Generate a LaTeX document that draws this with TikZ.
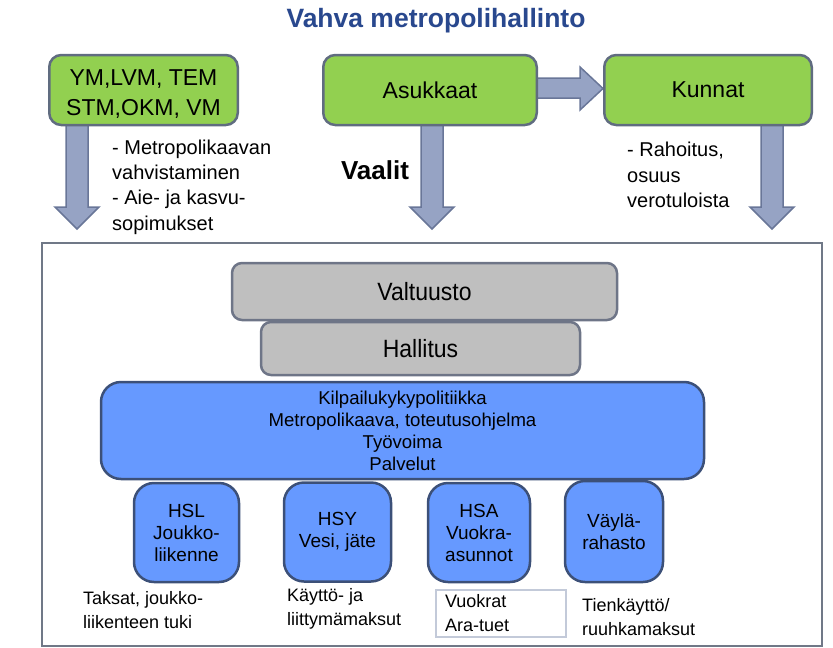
\documentclass[tikz,border=0pt]{standalone}
\usepackage{fontspec}
\setmainfont{Liberation Sans}
\newfontfamily\narrowfont[FakeStretch=0.92]{Liberation Sans}
\usepackage{tikz}
\usepackage{xcolor}
\definecolor{titleblue}{RGB}{41,72,142}
\definecolor{boxgreen}{RGB}{146,208,80}
\definecolor{greenline}{RGB}{96,108,128}
\definecolor{arrowfill}{RGB}{150,163,196}
\definecolor{arrowline}{RGB}{105,118,152}
\definecolor{boxgrey}{RGB}{191,191,191}
\definecolor{greyline}{RGB}{110,117,135}
\definecolor{boxblue}{RGB}{102,153,255}
\definecolor{blueline}{RGB}{60,80,120}
\definecolor{frameline}{RGB}{112,120,135}
\definecolor{thinline}{RGB}{195,202,217}

\begin{document}
\begin{tikzpicture}[x=1pt,y=-1pt,
		greenbox/.style={draw=greenline, line width=2.5pt, fill=boxgreen, rounded corners=12pt, align=center, inner sep=0pt, minimum height=70pt, font=\fontsize{23}{30}\selectfont},
		blockarrow/.style={draw=arrowline, line width=1.5pt, fill=arrowfill},
		sidetext/.style={anchor=west, align=left, inner sep=0pt, font=\fontsize{20}{25.3}\selectfont},
		greybox/.style={draw=greyline, line width=2.5pt, fill=boxgrey, rounded corners=10pt, font=\narrowfont\fontsize{25}{29}\selectfont},
		bluebox/.style={draw=blueline, line width=2.5pt, fill=boxblue, rounded corners=20pt, align=center, inner sep=0pt},
		unitbox/.style={bluebox, minimum height=99pt, font=\fontsize{19}{22}\selectfont},
		notetext/.style={anchor=west, align=left, inner sep=0pt, font=\fontsize{18}{24}\selectfont}]
		\useasboundingbox (0,0) rectangle (833,648);
		\node[font=\bfseries\fontsize{26.5}{30}\selectfont, text=titleblue] (title) at (436,21) {Vahva metropolihallinto};
		\foreach \x in {77,432,772}
			\draw[blockarrow] (\x-11,120) -- (\x-11,207) -- (\x-22,207) -- (\x,229) -- (\x+22,207) -- (\x+11,207) -- (\x+11,120) -- cycle;
		\draw[blockarrow] (530,78) -- (580,78) -- (580,67) -- (603,88.5) -- (580,110) -- (580,98) -- (530,98) -- cycle;
		\node[greenbox, minimum width=188.5pt, text height=54pt] (gov) at (143.5,90) {YM,LVM, TEM\\STM,OKM, VM};
		\node[greenbox, minimum width=213.5pt] (res) at (430,90) {Asukkaat};
		\node[greenbox, minimum width=207.5pt] (mun) at (708,90) {Kunnat};
		\node[sidetext] (govtext) at (112,187) {- Metropolikaavan\\vahvistaminen\\- Aie- ja kasvu-\\sopimukset};
		\node[font=\bfseries\fontsize{26}{30}\selectfont, inner sep=0pt] (vote) at (375,170) {Vaalit};
		\node[sidetext] (muntext) at (627,175) {- Rahoitus,\\osuus\\verotuloista};
		\draw[draw=frameline, line width=2.5pt] (42,243) rectangle (822,646);
		\node[greybox, minimum width=385pt, minimum height=57pt] (council) at (424.5,291.5) {Valtuusto};
		\node[greybox, minimum width=319pt, minimum height=53pt] (board) at (420.5,348.5) {Hallitus};
		\node[bluebox, minimum width=603pt, minimum height=97pt, font=\fontsize{18.6}{22}\selectfont] (tasks) at (402.5,430.5) {Kilpailukykypolitiikka\\Metropolikaava, toteutusohjelma\\Työvoima\\Palvelut};
		\node[unitbox, minimum width=105pt] (hsl) at (186.5,532.5) {HSL\\Joukko-\\liikenne};
		\node[unitbox, minimum width=107pt] (hsy) at (337.5,532) {HSY\\Vesi, jäte};
		\node[unitbox, minimum width=102pt] (hsa) at (479,532.5) {HSA\\Vuokra-\\asunnot};
		\node[unitbox, minimum width=98pt, minimum height=101pt] (fund) at (614,531.5) {Väylä-\\rahasto};
		\node[notetext] (hslnote) at (83,610) {Taksat, joukko-\\liikenteen tuki};
		\node[notetext] (hsynote) at (287,609) {Käyttö- ja\\liittymämaksut};
		\node[notetext, draw=thinline, line width=2pt, minimum width=130pt, minimum height=47pt, text width=112pt, inner xsep=9pt, anchor=center] (hsanote) at (501,613.5) {Vuokrat\\Ara-tuet};
		\node[notetext] (fundnote) at (582,617) {Tienkäyttö/\\ruuhkamaksut};
\end{tikzpicture}
\end{document}
